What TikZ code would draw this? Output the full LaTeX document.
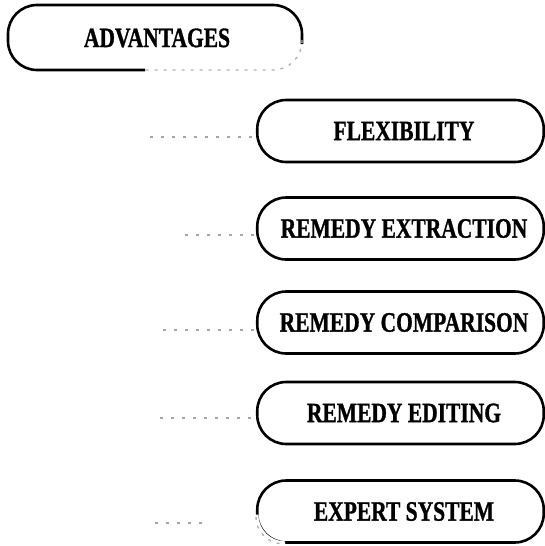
\documentclass[tikz,border=0pt]{standalone}
\usepackage{graphicx}
\usepackage{fontspec}
\setmainfont{Liberation Serif}
\newfontfamily\heavyfont{Liberation Serif Bold}[FakeBold=1.2]
\newcommand{\cond}[1]{\hspace*{7pt}\scalebox{0.86}[1.12]{#1}}
\begin{document}
\begin{tikzpicture}[x=1pt,y=-1pt,
  label/.style={font=\heavyfont\fontsize{25}{30}\selectfont, inner sep=0pt},
  box/.style={label, draw, line width=2.6pt, rounded corners=29pt,
    minimum width=286.5pt, minimum height=62pt},
  outline/.style={line width=2.6pt, rounded corners=29pt},
  erase/.style={draw=white, line width=5pt, rounded corners=29pt},
  faded/.style={draw=black!30, line width=1.4pt, dash pattern=on 3pt off 6pt},
  faint/.style={draw=black!35, line width=1.2pt, dash pattern=on 3pt off 8pt}]
\useasboundingbox (0,0) rectangle (545,546);

% top box
\node[label] (adv) at (157,38) {\scalebox{0.86}[1.12]{ADVANTAGES}};
\draw[outline] (145,70) -- (8,70) -- (8,5) -- (302,5) -- (302,44);
\draw[faded, rounded corners=29pt] (302,40) -- (302,70) -- (145,70);

% item boxes
\node[box] (flex)   at (400.5,131)   {\cond{FLEXIBILITY}};
\node[box] (extr)   at (400.5,228.5) {\cond{REMEDY EXTRACTION}};
\node[box] (comp)   at (400.5,322.5) {\cond{REMEDY COMPARISON}};
\node[box] (edit)   at (400.5,413)   {\cond{REMEDY EDITING}};
\node[box] (expert) at (400.5,511.5) {\cond{EXPERT SYSTEM}};

% faded bottom-left corner of the last box
\draw[erase] ([yshift=27pt]expert.south west) -- (expert.south west) -- ([xshift=27pt]expert.south west);
\draw[faded, rounded corners=27pt] ([yshift=27pt]expert.south west) -- (expert.south west) -- ([xshift=27pt]expert.south west);

% faint connectors
\coordinate (l1) at (150,137);
\coordinate (l2) at (185,235);
\coordinate (l3) at (163,330);
\coordinate (l4) at (160,418);
\coordinate (l5) at (155,523);
\draw[faint] (l1) -- (l1 -| flex.west);
\draw[faint] (l2) -- (l2 -| extr.west);
\draw[faint] (l3) -- (l3 -| comp.west);
\draw[faint] (l4) -- (l4 -| edit.west);
\draw[faint] (l5) -- ([xshift=-50pt]l5 -| expert.west);
\end{tikzpicture}
\end{document}
